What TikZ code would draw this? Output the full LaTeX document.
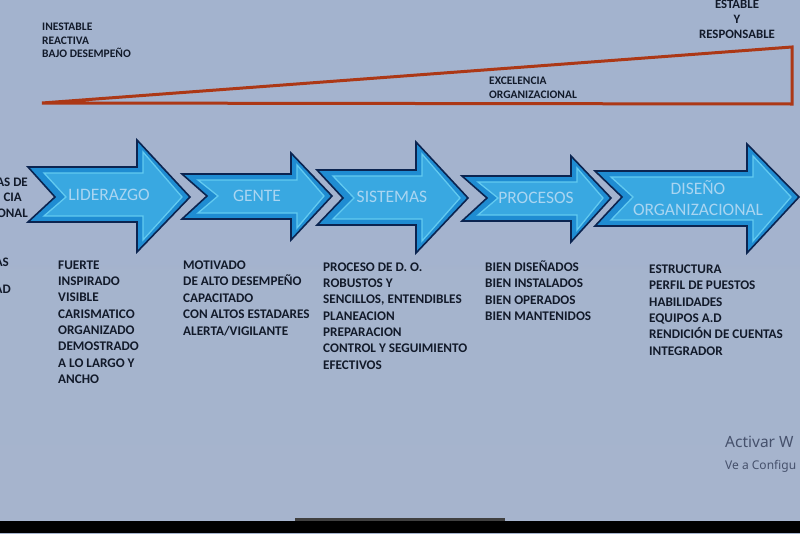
\documentclass[tikz,border=0pt]{standalone}
\usepackage{fontspec}
\setmainfont{Carlito}
\newfontfamily\winfont{Noto Sans}
\definecolor{bgtop}{HTML}{A3B3CE}
\definecolor{bgmid}{HTML}{B4C1D9}
\definecolor{bgbot}{HTML}{A6B4CD}
\definecolor{wedgecol}{HTML}{AC3816}
\definecolor{navy}{HTML}{0B2450}
\definecolor{ringblue}{HTML}{1F8CD2}
\definecolor{coreblue}{HTML}{39A8E1}
\definecolor{bevel}{HTML}{62CAF0}
\definecolor{labelcol}{HTML}{A9D5F1}
\definecolor{inkcol}{HTML}{121A2A}
\definecolor{wincol}{HTML}{46516C}
\newcommand\flowarrow[9]{%
  \draw[arrowouter] (#1,#2) -- (#5,#2) -- (#5,#6) -- (#8,#9) -- (#5,#7) -- (#5,#3) -- (#1,#3) -- (#4,#9) -- cycle;
  \draw[arrowinner] ({#1+16},{#2+6}) -- ({#5+6},{#2+6}) -- ({#5+6},{#6+12}) -- ({#8-8},#9) -- ({#5+6},{#7-12}) -- ({#5+6},{#3-6}) -- ({#1+16},{#3-6}) -- ({#4+11},#9) -- cycle;
}
\newcommand\itemlist[5]{%
  \foreach \t [count=\i] in {#5}
    \node[listitem] (#1\i) at (#2,{#3+#4*(\i-1)}) {\t};
}
\begin{document}
\begin{tikzpicture}[x=1pt,y=-1pt,
  arrowouter/.style={fill=ringblue,draw=navy,line width=1.6pt,line join=miter},
  arrowinner/.style={fill=coreblue,draw=bevel,line width=1.3pt,line join=miter},
  arrowlabel/.style={text=labelcol,font=\fontsize{17.5}{20}\selectfont,inner sep=0pt,text height=11.2pt,text depth=0pt},
  listitem/.style={anchor=west,text=inkcol,font=\bfseries\fontsize{13.2}{15}\selectfont,inner sep=0pt,text height=8.4pt,text depth=0pt},
  toptext/.style={text=inkcol,font=\bfseries\fontsize{11.5}{13}\selectfont,inner sep=0pt,text height=7.4pt,text depth=0pt},
  righttext/.style={text=inkcol,font=\bfseries\fontsize{12.8}{14}\selectfont,inner sep=0pt,text height=8.2pt,text depth=0pt},
  frag/.style={anchor=east,text=inkcol,font=\bfseries\fontsize{13}{15}\selectfont,inner sep=0pt,text height=8.4pt,text depth=0pt},
  wintext/.style={anchor=west,text=wincol,inner sep=0pt,text depth=0pt}]
\useasboundingbox (0,0) rectangle (800,533);
\shade[top color=bgtop,middle color=bgmid,bottom color=bgbot] (0,0) rectangle (800,533);
% bottom bezel
\fill[black] (0,521) rectangle (800,533);
\fill[black!75] (295,518) rectangle (505,521);
% wedge
\draw[wedgecol,line width=3pt,line join=miter] (42,103) -- (792,47) -- (792,104) -- cycle;
% top texts
\node[toptext,anchor=west] (t1) at (42,27) {INESTABLE};
\node[toptext,anchor=west] (t2) at (42,40.5) {REACTIVA};
\node[toptext,anchor=west] (t3) at (42,54) {BAJO DESEMPEÑO};
\node[righttext] (r1) at (737,4) {ESTABLE};
\node[righttext] (r2) at (737,19) {Y};
\node[righttext] (r3) at (737,34) {RESPONSABLE};
\node[toptext,anchor=west] (e1) at (489,81) {EXCELENCIA};
\node[toptext,anchor=west] (e2) at (489,95) {ORGANIZACIONAL};
% left fragments (cut by the screen edge)
\node[frag] (f1) at (28,182) {AS DE};
\node[frag] (f2) at (22,197) {CIA};
\node[frag] (f3) at (28,213) {ONAL};
\node[frag] (f4) at (9,262) {AS};
\node[frag] (f5) at (11,289) {AD};
% arrows
\flowarrow{28}{167}{222}{55}{137}{140}{252}{190}{197}
\flowarrow{182}{174}{219}{207}{291}{153}{240}{332}{196}
\flowarrow{317}{170}{225}{343}{416}{142}{253}{468}{198}
\flowarrow{462}{176}{221}{487}{571}{156}{242}{611}{198}
\flowarrow{595}{171}{226}{622}{747}{144}{253}{799}{197}
\node[arrowlabel] (a1) at (109,195) {LIDERAZGO};
\node[arrowlabel] (a2) at (257,196) {GENTE};
\node[arrowlabel] (a3) at (392,197) {SISTEMAS};
\node[arrowlabel] (a4) at (536,198) {PROCESOS};
\node[arrowlabel] (a5) at (698,189) {DISEÑO};
\node[arrowlabel] (a6) at (698,210) {ORGANIZACIONAL};
% lists
\itemlist{lid}{58}{265}{16.3}{FUERTE,INSPIRADO,VISIBLE,CARISMATICO,ORGANIZADO,DEMOSTRADO,A LO LARGO Y,ANCHO}
\itemlist{gen}{183}{265}{16.5}{MOTIVADO,DE ALTO DESEMPEÑO,CAPACITADO,CON ALTOS ESTADARES,ALERTA/VIGILANTE}
\itemlist{sis}{323}{267}{16.3}{PROCESO DE D. O.,ROBUSTOS Y,{SENCILLOS, ENTENDIBLES},PLANEACION,PREPARACION,CONTROL Y SEGUIMIENTO,EFECTIVOS}
\itemlist{pro}{485}{267}{16.4}{BIEN DISEÑADOS,BIEN INSTALADOS,BIEN OPERADOS,BIEN MANTENIDOS}
\itemlist{dis}{649}{269}{16.4}{ESTRUCTURA,PERFIL DE PUESTOS,HABILIDADES,EQUIPOS A.D,RENDICIÓN DE CUENTAS,INTEGRADOR}
% watermark
\node[wintext,font=\winfont\fontsize{15.5}{18}\selectfont,text height=11pt] (w1) at (725,442) {Activar W};
\node[wintext,font=\winfont\fontsize{12}{14}\selectfont,text height=8.6pt] (w2) at (725,465) {Ve a Configu};
\end{tikzpicture}
\end{document}
